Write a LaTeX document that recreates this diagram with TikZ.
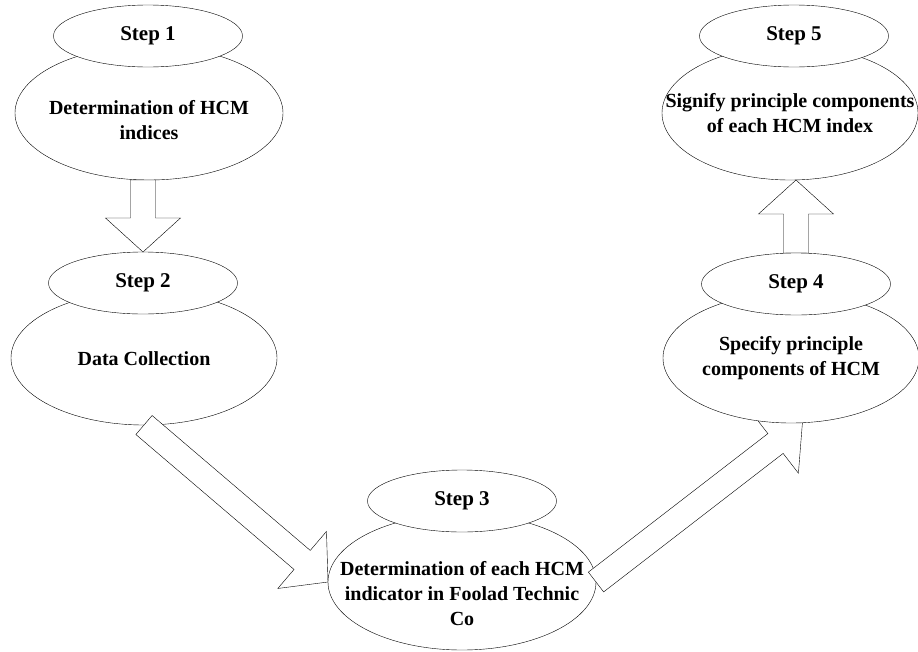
\documentclass[tikz,border=0pt]{standalone}
\usepackage{fontspec}
\setmainfont{Liberation Serif}
\usetikzlibrary{shapes.geometric,calc}

\pgfdeclarelayer{lay1}
\pgfdeclarelayer{lay2}
\pgfdeclarelayer{lay3}
\pgfdeclarelayer{lay4}
\pgfsetlayers{lay1,lay2,lay3,lay4,main}

\tikzset{
  bigell/.style={ellipse, draw, fill=white, inner sep=0pt, outer sep=0pt, minimum width=268pt, minimum height=134pt},
  stepell/.style={ellipse, draw, fill=white, inner sep=0pt, outer sep=0pt, minimum width=189pt, minimum height=62pt, font=\fontsize{21}{26}\selectfont\bfseries},
  steptext/.style={align=center, inner sep=0pt, font=\fontsize{20}{25}\selectfont\bfseries},
  blockline/.style={draw, fill=white, line join=miter}
}

% hollow block arrow from #1 to the tip #2
\newcommand{\blockarrow}[2]{%
  \coordinate (hb) at ($(#2)!34pt!(#1)$);
  \draw[blockline] ($(#1)!12.5pt!90:(#2)$) -- ($(hb)!12.5pt!90:(#2)$) -- ($(hb)!37.5pt!90:(#2)$) -- (#2)
    -- ($(hb)!37.5pt!-90:(#2)$) -- ($(hb)!12.5pt!-90:(#2)$) -- ($(#1)!12.5pt!-90:(#2)$) -- cycle;
}

\begin{document}
\begin{tikzpicture}[x=1pt, y=-1pt, line width=0.8pt]
        \useasboundingbox (0,0) rectangle (918,651);

        \begin{pgfonlayer}{lay1}
        \node[bigell] (e1) at (149,113) {};
        \node[stepell] (s1) at (148,36) {Step 1};
        \node[steptext] (t1) at (149,120) {Determination of HCM\\indices};

        \node[bigell, minimum width=266pt] (e2) at (144,358) {};
        \node[stepell] (s2) at (143,283) {Step 2};
        \node[steptext] (t2) at (144,359) {Data Collection};
        \end{pgfonlayer}

        \begin{pgfonlayer}{lay3}
        \node[bigell, minimum height=136pt] (e3) at (462,582) {};
        \node[stepell] (s3) at (462,501) {Step 3};
        \node[steptext] (t3) at (462,594) {Determination of each HCM\\indicator in Foolad Technic\\Co};
        \end{pgfonlayer}

        \node[bigell, minimum width=256pt, minimum height=130pt] (e4) at (791,358) {};
        \node[stepell] (s4) at (796,284) {Step 4};
        \node[steptext] (t4) at (791,358) {Specify principle\\components of HCM};

        \node[bigell, minimum width=256pt] (e5) at (790,113) {};
        \node[stepell] (s5) at (794,36) {Step 5};
        \node[steptext] (t5) at (790,113) {Signify principle components\\of each HCM index};

        \coordinate (a1) at (s2.north |- e1.south);
        \coordinate (a4) at (s4.north |- e5.south);

        \begin{pgfonlayer}{lay2}
        \blockarrow{a1}{s2.north}
        \blockarrow{e2.south}{e3.west}
        \end{pgfonlayer}

        \begin{pgfonlayer}{lay4}
        \blockarrow{e3.east}{e4.-80}
        \blockarrow{s4.north}{a4}
        \end{pgfonlayer}
\end{tikzpicture}
\end{document}
